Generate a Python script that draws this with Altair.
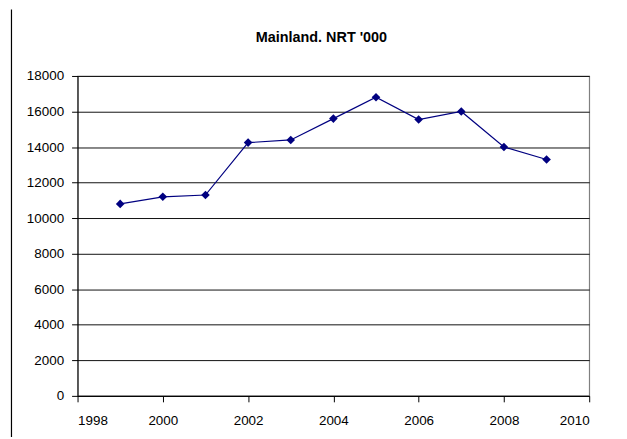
import altair as alt
import pandas as pd

years = [1999, 2000, 2001, 2002, 2003, 2004, 2005, 2006, 2007, 2008, 2009]
nrt = [10800, 11200, 11300, 14250, 14400, 15600, 16800, 15550, 16000, 14000, 13300]
x_ticks = [1998, 2000, 2002, 2004, 2006, 2008, 2010]
y_ticks = [0, 2000, 4000, 6000, 8000, 10000, 12000, 14000, 16000, 18000]
title_text = "Mainland. NRT '000"

df = pd.DataFrame({"year": years, "nrt": nrt})

x = alt.X("year:Q", scale=alt.Scale(domain=[1998, 2010], nice=False, zero=False),
          axis=alt.Axis(values=x_ticks, format="d", title=None, grid=False,
                        tickSize=6, labelPadding=12, tickColor="#000", domainColor="#000",
                        labelFontSize=13.5, labelColor="#000", labelFont="Liberation Sans"))
y = alt.Y("nrt:Q", scale=alt.Scale(domain=[0, 18000], nice=False),
          axis=alt.Axis(values=y_ticks, format="d", title=None, grid=True,
                        gridColor="#111", gridWidth=1,
                        tickSize=6, labelPadding=8, tickColor="#000", domainColor="#000",
                        labelFontSize=13.5, labelColor="#000", labelFont="Liberation Sans"))

base = alt.Chart(df)
line = base.mark_line(color="#000080", strokeWidth=1.2).encode(x=x, y=y)
pts = base.mark_point(shape="diamond", filled=True, size=75, color="#000080", opacity=1).encode(x=x, y=y)

frame = alt.Chart(pd.DataFrame({"a": [0]})).mark_rule(color="#000", strokeWidth=1.2).encode(
    x=alt.value(-66.5), y=alt.value(-67), y2=alt.value(380))

chart = alt.layer(frame, line, pts).properties(
    width=515, height=322,
    title=alt.TitleParams(title_text, fontSize=14.5, fontWeight="bold", font="Liberation Sans",
                          color="#000", offset=-37, dx=-12, frame="group"),
    autosize=alt.AutoSizeParams(type="none"),
    padding={"left": 70, "top": 67, "right": 30, "bottom": 40},
).configure_view(stroke="#808080", strokeWidth=1.2)

chart.save("out.html", embed_options={"renderer": "svg", "actions": False})
